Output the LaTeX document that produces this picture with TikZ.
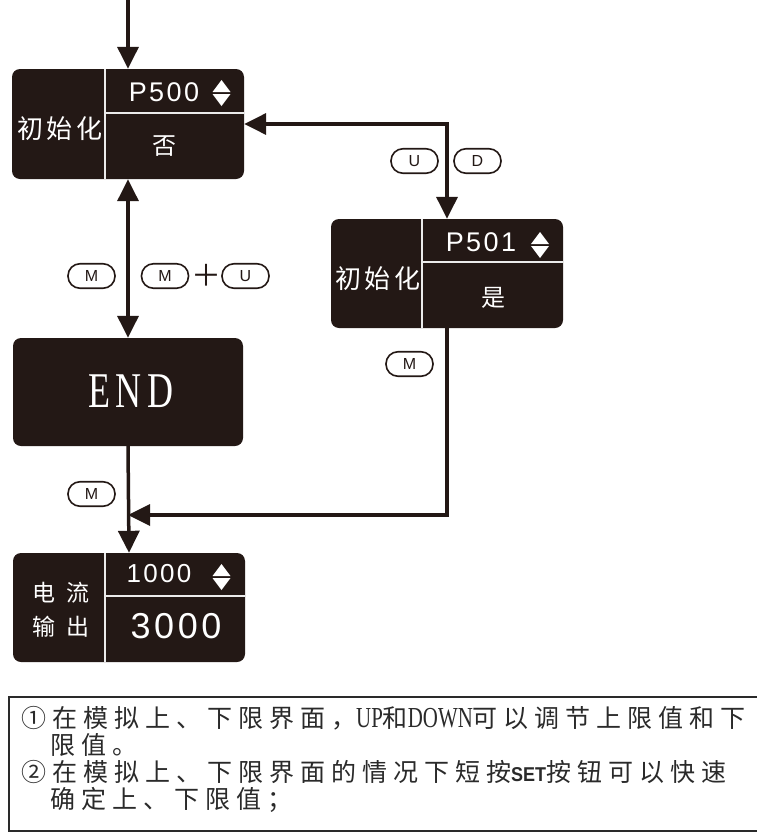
\documentclass[tikz,border=0pt]{standalone}
\usepackage{fontspec}
\usetikzlibrary{arrows.meta}
\setmainfont{Liberation Sans}
\newfontfamily\cjk{Noto Sans CJK SC}
\newfontfamily\cjkw{Noto Sans CJK SC}[LetterSpace=12]
\newfontfamily\cjkww{Noto Sans CJK SC}[LetterSpace=45]
\newfontfamily\cjkn{Noto Sans CJK SC}[LetterSpace=24]
\newfontfamily\arl{Liberation Sans}[LetterSpace=9]
\newfontfamily\arlw{Liberation Sans}[LetterSpace=10]
\newfontfamily\arlp{Liberation Sans}
\newfontfamily\endf{Liberation Serif}[FakeStretch=0.72,LetterSpace=12]
\newfontfamily\latn{Liberation Serif}[FakeStretch=0.72]
\newfontfamily\setf{Liberation Sans Bold}[FakeStretch=0.9]
\definecolor{boxc}{HTML}{231815}
\definecolor{notec}{HTML}{2A2A2A}
\tikzset{
  box/.style={fill=boxc, rounded corners=8pt, inner sep=0pt, minimum width=232pt, minimum height=110pt},
  divider/.style={draw=white!92!black, line width=2pt},
  wtxt/.style={text=white, inner sep=0pt},
  pill/.style={draw=boxc, line width=1.6pt, rounded corners=12pt, minimum width=47pt, minimum height=24.5pt, inner sep=0pt, font=\arlp\fontsize{16}{16}\selectfont, text=boxc},
  conn/.style={draw=boxc, line width=3.5pt},
  tip/.tip={Triangle[length=22pt,width=21pt]},
  note/.style={inner sep=0pt, anchor=west, text=notec, font=\cjkn\fontsize{25}{25}\selectfont},
  updn/.pic={\fill[white] (-9,-1) -- (9,-1) -- (0,-13) -- cycle;
             \fill[white] (-9,1) -- (9,1) -- (0,13) -- cycle;}
}
\begin{document}
\begin{tikzpicture}[x=1pt,y=-1pt]
\useasboundingbox (0,0) rectangle (757,833);
% boxes
\node[box] (p500) at (128,124) {};
\node[box, minimum height=109pt] (p501) at (447,273.5) {};
\node[box, minimum width=230pt, minimum height=108pt] (endb) at (128,392) {};
\node[box, minimum height=109pt] (outb) at (129,607.5) {};
% dividers
\draw[divider] (105,69) -- (105,179);
\draw[divider] (105,113) -- (244,113);
\draw[divider] (422,219) -- (422,328);
\draw[divider] (422,262) -- (563,262);
\draw[divider] (105,553) -- (105,662);
\draw[divider] (105,596) -- (245,596);
% texts in boxes
\node[wtxt, font=\arl\fontsize{27}{27}\selectfont] (t500) at (164,92.5) {P500};
\node[wtxt, font=\cjkw\fontsize{26}{26}\selectfont] (ti1) at (60,129) {初始化};
\node[wtxt, font=\cjk\fontsize{24}{24}\selectfont] (tno) at (164,146) {否};
\pic at (221.5,93) {updn};
\node[wtxt, font=\arl\fontsize{27}{27}\selectfont] (t501) at (481,242) {P501};
\node[wtxt, font=\cjkw\fontsize{26}{26}\selectfont] (ti2) at (378,279) {初始化};
\node[wtxt, font=\cjk\fontsize{24}{24}\selectfont] (tyes) at (493,298) {是};
\pic at (540,245) {updn};
\node[wtxt, font=\endf\fontsize{50}{50}\selectfont] (tend) at (131,391) {END};
\node[wtxt, font=\arl\fontsize{26}{26}\selectfont] (t1000) at (159,574) {1000};
\node[wtxt, font=\arlw\fontsize{36}{36}\selectfont] (t3000) at (176,626) {3000};
\node[wtxt, font=\cjkww\fontsize{23}{23}\selectfont] (tdl) at (61,593) {电流};
\node[wtxt, font=\cjkww\fontsize{23}{23}\selectfont] (tsc) at (61,627) {输出};
\pic at (221.5,577) {updn};
% connectors
\coordinate (start) at (128,0);
\coordinate (join) at (128,515);
\draw[conn, -tip] (start) -- (p500.north);
\draw[conn, tip-tip] (p500.south) -- (endb.north);
\draw[conn, tip-tip] (p500.east) -| (p501.north);
\draw[conn, -tip] (p501.south) |- (join);
\draw[conn, -tip] (endb.south) -- (outb.north);
% key labels
\node[pill] (m1) at (91.5,276) {M};
\node[pill] (m2) at (165,276) {M};
\node[inner sep=0pt, text=boxc, font=\cjk\fontsize{30}{30}\selectfont] (plus) at (206,275) {＋};
\node[pill] (u1) at (245.5,276) {U};
\node[pill] (u2) at (414.5,161) {U};
\node[pill] (d2) at (477.5,161) {D};
\node[pill] (m3) at (409.5,364) {M};
\node[pill] (m4) at (91.5,494) {M};
% note box
\draw[draw=notec, line width=1.5pt] (9,697) rectangle (775,831);
\node[note] (l1) at (21,718) {①在模拟上、下限界面，{\latn\fontsize{29}{29}\selectfont UP}和{\latn\fontsize{29}{29}\selectfont DOWN}可以调节上限值和下};
\node[note] (l2) at (50,745) {限值。};
\node[note] (l3) at (21,772) {②在模拟上、下限界面的情况下短按{\setf\fontsize{20}{20}\selectfont SET}按钮可以快速};
\node[note] (l4) at (50,800) {确定上、下限值；};
\end{tikzpicture}
\end{document}
